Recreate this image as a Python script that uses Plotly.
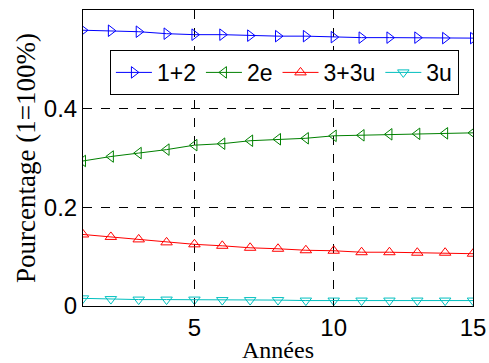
import plotly.graph_objects as go

years = list(range(1, 16))
s12 = [0.559, 0.558, 0.556, 0.552, 0.550, 0.550, 0.548, 0.547, 0.547, 0.545, 0.544, 0.544, 0.544, 0.543, 0.543]
s2e = [0.294, 0.303, 0.310, 0.317, 0.326, 0.329, 0.335, 0.338, 0.340, 0.345, 0.346, 0.348, 0.349, 0.350, 0.351]
s33u = [0.145, 0.140, 0.135, 0.129, 0.125, 0.122, 0.118, 0.116, 0.113, 0.112, 0.109, 0.109, 0.108, 0.108, 0.106]
s3u = [0.0155, 0.014, 0.013, 0.013, 0.013, 0.012, 0.012, 0.012, 0.011, 0.011, 0.011, 0.011, 0.011, 0.011, 0.011]

names = ["1+2", "2e", "3+3u", "3u"]
series = [s12, s2e, s33u, s3u]
colors = ["#0000ff", "#008000", "#ff0000", "#00bfbf"]
symbols = ["triangle-right-open", "triangle-left-open", "triangle-up-open", "triangle-down-open"]

fig = go.Figure()
for n, s, c, m in zip(names, series, colors, symbols):
    fig.add_trace(go.Scatter(x=years, y=s, name=n, mode="lines+markers",
                             line=dict(color=c, width=1),
                             marker=dict(symbol=m, size=10, color=c, line=dict(width=1, color=c))))

axis_common = dict(showline=True, linecolor="black", linewidth=1, mirror="ticks",
                   ticks="inside", ticklen=5, tickcolor="black",
                   showgrid=True, gridcolor="black", griddash="dash", gridwidth=1,
                   zeroline=False, automargin=False,
                   tickfont=dict(family="Liberation Sans, Arial", size=24, color="black"))

fig.update_layout(
    width=489, height=363,
    margin=dict(l=83, r=16, t=10, b=57),
    paper_bgcolor="white", plot_bgcolor="white",
    showlegend=True,
    legend=dict(orientation="h", x=0.069, y=0.789, xanchor="left", yanchor="middle",
                bordercolor="black", borderwidth=1, bgcolor="white",
                font=dict(family="Liberation Sans, Arial", size=23, color="black"),
                tracegroupgap=0, itemwidth=36),
    xaxis=dict(range=[1, 15], tickvals=[5, 10, 15],
               title=dict(text="Années", standoff=2,
                          font=dict(family="Liberation Serif, Times New Roman", size=24, color="black")),
               **axis_common),
    yaxis=dict(range=[0, 0.6], tickvals=[0, 0.2, 0.4], ticktext=["0", "0.2", "0.4"],
               title=dict(text="Pourcentage (1=100%)", standoff=0,
                          font=dict(family="Liberation Serif, Times New Roman", size=27, color="black")),
               **axis_common),
)

fig.write_html("out.html", config={"displayModeBar": False},
               post_script="document.body.style.margin='0';document.body.style.overflow='hidden';")
